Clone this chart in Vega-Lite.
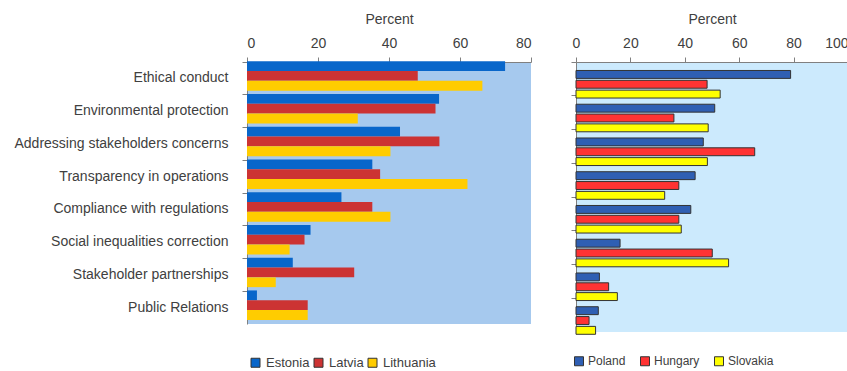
{
  "$schema": "https://vega.github.io/schema/vega-lite/v6.json",
  "padding": {"left": 13, "top": 12, "right": 0, "bottom": 0},
  "config": {
    "font": "Liberation Sans",
    "view": {"stroke": null},
    "axis": {
      "labelFont": "Liberation Sans", "labelFontSize": 14, "labelColor": "#404040", "labelLimit": 400,
      "titleFont": "Liberation Sans", "titleFontSize": 14, "titleFontWeight": "normal", "titleColor": "#404040",
      "domainColor": "#808080", "tickColor": "#808080", "grid": false, "tickSize": 5
    },
    "legend": {
      "labelFont": "Liberation Sans", "labelFontSize": 13, "labelColor": "#404040",
      "symbolType": "square", "symbolSize": 81, "symbolStrokeColor": "#333333", "symbolStrokeWidth": 1
    },
    "concat": {"spacing": 38}
  },
  "datasets": {
    "left": [
      {"item": "Ethical conduct", "country": "Estonia", "value": 72.7},
      {"item": "Ethical conduct", "country": "Latvia", "value": 48.1},
      {"item": "Ethical conduct", "country": "Lithuania", "value": 66.3},
      {"item": "Environmental protection", "country": "Estonia", "value": 54.1},
      {"item": "Environmental protection", "country": "Latvia", "value": 53.1},
      {"item": "Environmental protection", "country": "Lithuania", "value": 31.2},
      {"item": "Addressing stakeholders concerns", "country": "Estonia", "value": 43.1},
      {"item": "Addressing stakeholders concerns", "country": "Latvia", "value": 54.2},
      {"item": "Addressing stakeholders concerns", "country": "Lithuania", "value": 40.4},
      {"item": "Transparency in operations", "country": "Estonia", "value": 35.3},
      {"item": "Transparency in operations", "country": "Latvia", "value": 37.5},
      {"item": "Transparency in operations", "country": "Lithuania", "value": 62.1},
      {"item": "Compliance with regulations", "country": "Estonia", "value": 26.6},
      {"item": "Compliance with regulations", "country": "Latvia", "value": 35.3},
      {"item": "Compliance with regulations", "country": "Lithuania", "value": 40.4},
      {"item": "Social inequalities correction", "country": "Estonia", "value": 17.9},
      {"item": "Social inequalities correction", "country": "Latvia", "value": 16.2},
      {"item": "Social inequalities correction", "country": "Lithuania", "value": 12.0},
      {"item": "Stakeholder partnerships", "country": "Estonia", "value": 12.9},
      {"item": "Stakeholder partnerships", "country": "Latvia", "value": 30.2},
      {"item": "Stakeholder partnerships", "country": "Lithuania", "value": 8.1},
      {"item": "Public Relations", "country": "Estonia", "value": 2.8},
      {"item": "Public Relations", "country": "Latvia", "value": 17.1},
      {"item": "Public Relations", "country": "Lithuania", "value": 17.1}
    ],
    "right": [
      {"item": "Ethical conduct", "country": "Poland", "value": 78.9},
      {"item": "Ethical conduct", "country": "Hungary", "value": 48.2},
      {"item": "Ethical conduct", "country": "Slovakia", "value": 53.0},
      {"item": "Environmental protection", "country": "Poland", "value": 51.0},
      {"item": "Environmental protection", "country": "Hungary", "value": 36.0},
      {"item": "Environmental protection", "country": "Slovakia", "value": 48.6},
      {"item": "Addressing stakeholders concerns", "country": "Poland", "value": 46.8},
      {"item": "Addressing stakeholders concerns", "country": "Hungary", "value": 65.7},
      {"item": "Addressing stakeholders concerns", "country": "Slovakia", "value": 48.3},
      {"item": "Transparency in operations", "country": "Poland", "value": 43.8},
      {"item": "Transparency in operations", "country": "Hungary", "value": 37.8},
      {"item": "Transparency in operations", "country": "Slovakia", "value": 32.6},
      {"item": "Compliance with regulations", "country": "Poland", "value": 42.2},
      {"item": "Compliance with regulations", "country": "Hungary", "value": 37.8},
      {"item": "Compliance with regulations", "country": "Slovakia", "value": 38.7},
      {"item": "Social inequalities correction", "country": "Poland", "value": 16.2},
      {"item": "Social inequalities correction", "country": "Hungary", "value": 50.1},
      {"item": "Social inequalities correction", "country": "Slovakia", "value": 56.1},
      {"item": "Stakeholder partnerships", "country": "Poland", "value": 8.6},
      {"item": "Stakeholder partnerships", "country": "Hungary", "value": 12.0},
      {"item": "Stakeholder partnerships", "country": "Slovakia", "value": 15.2},
      {"item": "Public Relations", "country": "Poland", "value": 8.2},
      {"item": "Public Relations", "country": "Hungary", "value": 4.8},
      {"item": "Public Relations", "country": "Slovakia", "value": 7.2}
    ]
  },
  "hconcat": [
    {
      "width": 284,
      "height": 262,
      "view": {"fill": "#A6C9EE", "stroke": null},
      "data": {"name": "left"},
      "mark": {"type": "bar", "height": 9.8},
      "encoding": {
        "y": {
          "field": "item", "type": "nominal",
          "sort": ["Ethical conduct", "Environmental protection", "Addressing stakeholders concerns", "Transparency in operations", "Compliance with regulations", "Social inequalities correction", "Stakeholder partnerships", "Public Relations"],
          "scale": {"paddingInner": 0.1, "paddingOuter": 0.05},
          "axis": {"title": null, "labelPadding": 14, "bandPosition": -0.055}
        },
        "yOffset": {"field": "country", "type": "nominal", "sort": ["Estonia", "Latvia", "Lithuania"], "scale": {"paddingInner": 0, "paddingOuter": 0}},
        "x": {
          "field": "value", "type": "quantitative",
          "scale": {"domain": [0, 80], "nice": false},
          "axis": {"orient": "top", "title": "Percent", "values": [0, 20, 40, 60, 80], "labelPadding": 7, "titlePadding": 10}
        },
        "color": {
          "field": "country", "type": "nominal",
          "scale": {"domain": ["Estonia", "Latvia", "Lithuania"], "range": ["#0866CA", "#CC3333", "#FFCC00"]},
          "legend": {"title": null, "orient": "none", "direction": "horizontal", "legendX": 2, "legendY": 294, "labelOffset": 4, "columnPadding": 2}
        }
      }
    },
    {
      "width": 272,
      "height": 270,
      "view": {"fill": "#CCEAFD", "stroke": null},
      "data": {"name": "right"},
      "mark": {"type": "bar", "stroke": "#333333", "strokeWidth": 1, "height": 7.9},
      "encoding": {
        "y": {
          "field": "item", "type": "nominal",
          "sort": ["Ethical conduct", "Environmental protection", "Addressing stakeholders concerns", "Transparency in operations", "Compliance with regulations", "Social inequalities correction", "Stakeholder partnerships", "Public Relations"],
          "scale": {"paddingInner": 0.3, "paddingOuter": 0.15},
          "axis": {"title": null, "labels": false, "bandPosition": -0.214}
        },
        "yOffset": {"field": "country", "type": "nominal", "sort": ["Poland", "Hungary", "Slovakia"], "scale": {"paddingInner": 0, "paddingOuter": 0}},
        "x": {
          "field": "value", "type": "quantitative",
          "scale": {"domain": [0, 100], "nice": false},
          "axis": {"orient": "top", "title": "Percent", "values": [0, 20, 40, 60, 80, 100], "labelPadding": 7, "titlePadding": 10,
                   "labelAlign": {"condition": {"test": "datum.value == 100", "value": "right"}, "value": "center"}}
        },
        "color": {
          "field": "country", "type": "nominal",
          "scale": {"domain": ["Poland", "Hungary", "Slovakia"], "range": ["#2F5FB3", "#FF3333", "#FFFF00"]},
          "legend": {"title": null, "orient": "none", "direction": "horizontal", "legendX": -3, "legendY": 293, "labelFontSize": 12, "labelOffset": 3, "columnPadding": 12}
        }
      }
    }
  ],
  "resolve": {"scale": {"color": "independent", "x": "independent", "y": "independent"}}
}
